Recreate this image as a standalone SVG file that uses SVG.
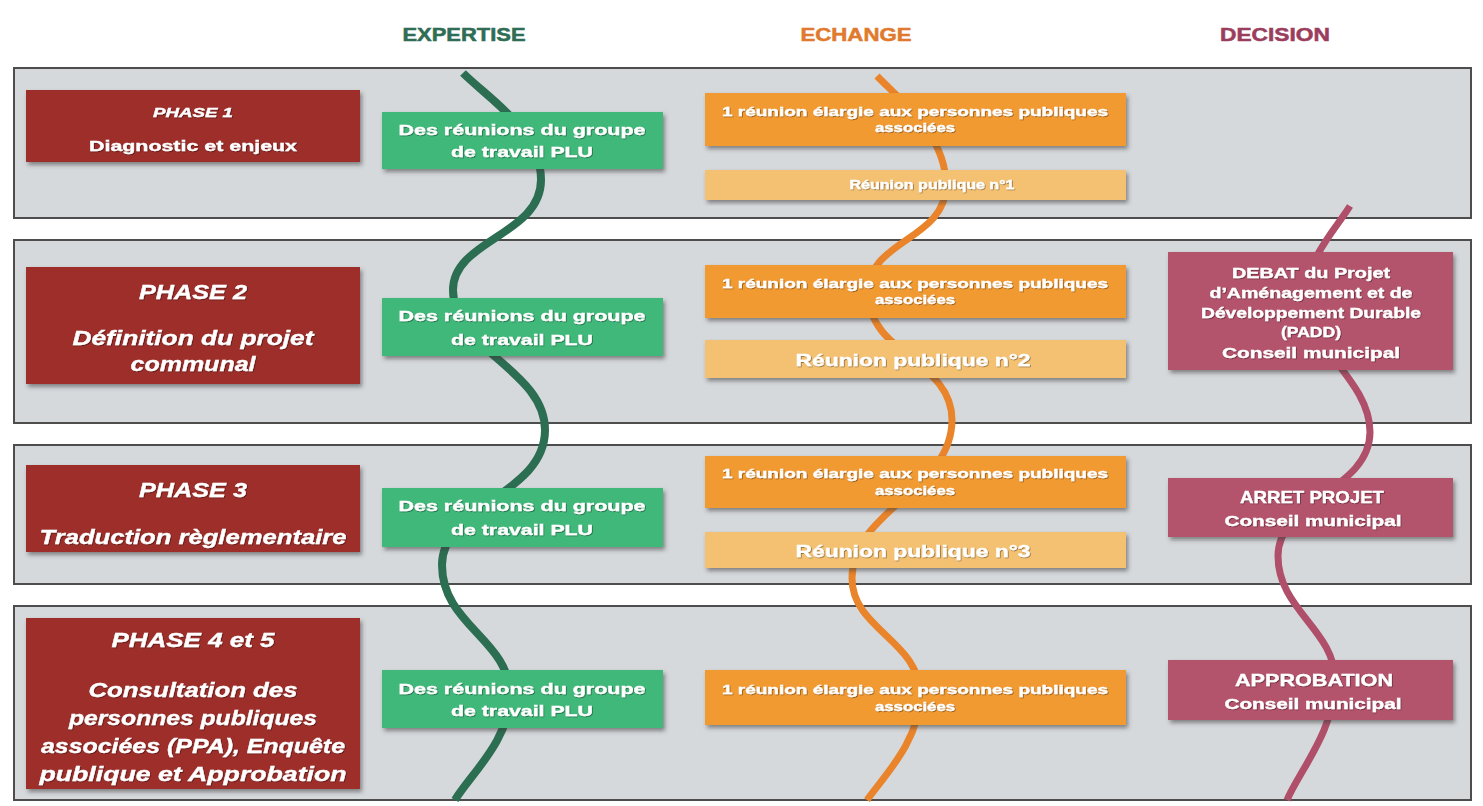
<svg xmlns="http://www.w3.org/2000/svg" width="1483" height="806" viewBox="0 0 1483 806">
  <defs>
    <filter id="shadow" x="-5%" y="-10%" width="112%" height="130%">
      <feDropShadow dx="2" dy="3" stdDeviation="2" flood-color="#3a3a3a" flood-opacity="0.55"/>
    </filter>
    <filter id="tshadow" x="-5%" y="-20%" width="110%" height="150%">
      <feDropShadow dx="0.8" dy="0.8" stdDeviation="0.4" flood-color="#000" flood-opacity="0.45"/>
    </filter>
  </defs>
  <style>
    .band { fill: #d6d9dc; stroke: #4d4d4d; stroke-width: 2; }
    .phase { fill: #9d2e2b; filter: url(#shadow); }
    .expert { fill: #41b87a; filter: url(#shadow); }
    .meet { fill: #f29a30; filter: url(#shadow); }
    .pub { fill: #f4c172; filter: url(#shadow); }
    .decide { fill: #b4536c; filter: url(#shadow); }
    text { font-family: "Liberation Sans", Arial, sans-serif; font-weight: bold; fill: #ffffff; text-anchor: middle; }
    .lbl { filter: url(#tshadow); stroke: #ffffff; stroke-width: 0.35; }
    .it { font-style: italic; }
    .head { font-size: 18px; stroke-width: 0.5; }
    .curve { fill: none; stroke-linecap: butt; }
  </style>

  <rect width="1483" height="806" fill="#ffffff"/>

  <!-- column headings -->
  <g id="headings">
    <text class="head" x="464" y="41" style="fill:#2f6d54; stroke:#2f6d54" textLength="123" lengthAdjust="spacingAndGlyphs">EXPERTISE</text>
    <text class="head" x="856" y="41" style="fill:#e07a2e; stroke:#e07a2e" textLength="111" lengthAdjust="spacingAndGlyphs">ECHANGE</text>
    <text class="head" x="1275" y="41" style="fill:#9b3d5c; stroke:#9b3d5c" textLength="110" lengthAdjust="spacingAndGlyphs">DECISION</text>
  </g>

  <!-- phase bands -->
  <g id="bands">
    <rect class="band" x="14" y="68" width="1457" height="150"/>
    <rect class="band" x="14" y="240" width="1457" height="183"/>
    <rect class="band" x="14" y="445" width="1457" height="139"/>
    <rect class="band" x="14" y="606" width="1457" height="194"/>
  </g>

  <!-- flowing threads of each column -->
  <g id="connectors" class="curve">
    <path stroke="#2c6e52" stroke-width="8" d="M463,73 C490,100 541,130 541,180 C541,235 453,240 453,290 C453,350 545,370 545,430 C545,495 442,505 442,565 C442,625 510,640 510,695 C510,740 470,775 455,800"/>
    <path stroke="#e9842b" stroke-width="7" d="M877,76 C900,100 946,135 946,185 C946,240 868,240 868,292 C868,355 952,360 952,420 C952,490 852,510 852,578 C852,630 920,640 920,695 C920,740 885,775 867,800"/>
    <path stroke="#b04f6a" stroke-width="7" d="M1350,206 C1335,230 1305,260 1305,300 C1305,345 1370,380 1370,432 C1370,490 1278,500 1278,556 C1278,610 1335,630 1335,680 C1335,730 1300,770 1287,800"/>
  </g>

  <!-- phase titles -->
  <g id="phase1">
    <rect class="phase" x="26" y="90" width="334" height="72"/>
    <text class="lbl it" x="193" y="117" font-size="13" textLength="80" lengthAdjust="spacingAndGlyphs">PHASE 1</text>
    <text class="lbl" x="193" y="151" font-size="15" textLength="208" lengthAdjust="spacingAndGlyphs">Diagnostic et enjeux</text>
  </g>
  <g id="phase2">
    <rect class="phase" x="26" y="267" width="334" height="117"/>
    <text class="lbl it" x="193" y="299" font-size="20" textLength="108" lengthAdjust="spacingAndGlyphs">PHASE 2</text>
    <text class="lbl it" x="193" y="345" font-size="20" textLength="241" lengthAdjust="spacingAndGlyphs">Définition du projet</text>
    <text class="lbl it" x="193" y="371" font-size="20" textLength="125" lengthAdjust="spacingAndGlyphs">communal</text>
  </g>
  <g id="phase3">
    <rect class="phase" x="26" y="465" width="334" height="87"/>
    <text class="lbl it" x="193" y="497" font-size="20" textLength="108" lengthAdjust="spacingAndGlyphs">PHASE 3</text>
    <text class="lbl it" x="193" y="544" font-size="20" textLength="307" lengthAdjust="spacingAndGlyphs">Traduction règlementaire</text>
  </g>
  <g id="phase4">
    <rect class="phase" x="26" y="618" width="334" height="171"/>
    <text class="lbl it" x="193" y="647" font-size="20" textLength="163" lengthAdjust="spacingAndGlyphs">PHASE 4 et 5</text>
    <text class="lbl it" x="193" y="697" font-size="20" textLength="209" lengthAdjust="spacingAndGlyphs">Consultation des</text>
    <text class="lbl it" x="193" y="725" font-size="20" textLength="248" lengthAdjust="spacingAndGlyphs">personnes publiques</text>
    <text class="lbl it" x="193" y="753" font-size="20" textLength="304" lengthAdjust="spacingAndGlyphs">associées (PPA), Enquête</text>
    <text class="lbl it" x="193" y="781" font-size="20" textLength="307" lengthAdjust="spacingAndGlyphs">publique et Approbation</text>
  </g>

  <!-- expertise: working group meetings -->
  <g id="expertise1">
    <rect class="expert" x="382" y="112" width="281" height="57"/>
    <text class="lbl" x="522" y="135" font-size="14" textLength="247" lengthAdjust="spacingAndGlyphs">Des réunions du groupe</text>
    <text class="lbl" x="522" y="157" font-size="14" textLength="142" lengthAdjust="spacingAndGlyphs">de travail PLU</text>
  </g>
  <g id="expertise2">
    <rect class="expert" x="382" y="298" width="281" height="58"/>
    <text class="lbl" x="522" y="321" font-size="14" textLength="247" lengthAdjust="spacingAndGlyphs">Des réunions du groupe</text>
    <text class="lbl" x="522" y="345" font-size="14" textLength="142" lengthAdjust="spacingAndGlyphs">de travail PLU</text>
  </g>
  <g id="expertise3">
    <rect class="expert" x="382" y="488" width="281" height="59"/>
    <text class="lbl" x="522" y="511" font-size="14" textLength="247" lengthAdjust="spacingAndGlyphs">Des réunions du groupe</text>
    <text class="lbl" x="522" y="535" font-size="14" textLength="142" lengthAdjust="spacingAndGlyphs">de travail PLU</text>
  </g>
  <g id="expertise4">
    <rect class="expert" x="382" y="670" width="281" height="58"/>
    <text class="lbl" x="522" y="694" font-size="14" textLength="247" lengthAdjust="spacingAndGlyphs">Des réunions du groupe</text>
    <text class="lbl" x="522" y="716" font-size="14" textLength="142" lengthAdjust="spacingAndGlyphs">de travail PLU</text>
  </g>

  <!-- echange: enlarged meetings and public meetings -->
  <g id="echange1">
    <rect class="meet" x="705" y="93" width="421" height="53"/>
    <text class="lbl" x="915" y="116" font-size="12" textLength="386" lengthAdjust="spacingAndGlyphs">1 réunion élargie aux personnes publiques</text>
    <text class="lbl" x="915" y="132" font-size="12" textLength="80" lengthAdjust="spacingAndGlyphs">associées</text>
  </g>
  <g id="public1">
    <rect class="pub" x="705" y="170" width="421" height="30"/>
    <text class="lbl" x="932" y="189" font-size="12" textLength="165" lengthAdjust="spacingAndGlyphs">Réunion publique n°1</text>
  </g>
  <g id="echange2">
    <rect class="meet" x="705" y="265" width="421" height="53"/>
    <text class="lbl" x="915" y="288" font-size="12" textLength="386" lengthAdjust="spacingAndGlyphs">1 réunion élargie aux personnes publiques</text>
    <text class="lbl" x="915" y="304" font-size="12" textLength="80" lengthAdjust="spacingAndGlyphs">associées</text>
  </g>
  <g id="public2">
    <rect class="pub" x="705" y="340" width="421" height="38"/>
    <text class="lbl" x="913" y="366" font-size="17" textLength="235" lengthAdjust="spacingAndGlyphs">Réunion publique n°2</text>
  </g>
  <g id="echange3">
    <rect class="meet" x="705" y="456" width="421" height="52"/>
    <text class="lbl" x="915" y="478" font-size="12" textLength="386" lengthAdjust="spacingAndGlyphs">1 réunion élargie aux personnes publiques</text>
    <text class="lbl" x="915" y="495" font-size="12" textLength="80" lengthAdjust="spacingAndGlyphs">associées</text>
  </g>
  <g id="public3">
    <rect class="pub" x="705" y="532" width="421" height="36"/>
    <text class="lbl" x="913" y="557" font-size="17" textLength="235" lengthAdjust="spacingAndGlyphs">Réunion publique n°3</text>
  </g>
  <g id="echange4">
    <rect class="meet" x="705" y="670" width="421" height="55"/>
    <text class="lbl" x="915" y="694" font-size="12" textLength="386" lengthAdjust="spacingAndGlyphs">1 réunion élargie aux personnes publiques</text>
    <text class="lbl" x="915" y="711" font-size="12" textLength="80" lengthAdjust="spacingAndGlyphs">associées</text>
  </g>

  <!-- decision: municipal council steps -->
  <g id="decision2">
    <rect class="decide" x="1168" y="252" width="285" height="118"/>
    <text class="lbl" x="1311" y="278" font-size="14" textLength="158" lengthAdjust="spacingAndGlyphs">DEBAT du Projet</text>
    <text class="lbl" x="1311" y="298" font-size="14" textLength="203" lengthAdjust="spacingAndGlyphs">d’Aménagement et de</text>
    <text class="lbl" x="1311" y="318" font-size="14" textLength="220" lengthAdjust="spacingAndGlyphs">Développement Durable</text>
    <text class="lbl" x="1311" y="337" font-size="14" textLength="60" lengthAdjust="spacingAndGlyphs">(PADD)</text>
    <text class="lbl" x="1311" y="358" font-size="14" textLength="178" lengthAdjust="spacingAndGlyphs">Conseil municipal</text>
  </g>
  <g id="decision3">
    <rect class="decide" x="1168" y="478" width="285" height="59"/>
    <text class="lbl" x="1312" y="503" font-size="17" textLength="144" lengthAdjust="spacingAndGlyphs">ARRET PROJET</text>
    <text class="lbl" x="1313" y="526" font-size="14" textLength="177" lengthAdjust="spacingAndGlyphs">Conseil municipal</text>
  </g>
  <g id="decision4">
    <rect class="decide" x="1168" y="660" width="285" height="60"/>
    <text class="lbl" x="1314" y="686" font-size="17" textLength="158" lengthAdjust="spacingAndGlyphs">APPROBATION</text>
    <text class="lbl" x="1313" y="709" font-size="14" textLength="177" lengthAdjust="spacingAndGlyphs">Conseil municipal</text>
  </g>
</svg>
